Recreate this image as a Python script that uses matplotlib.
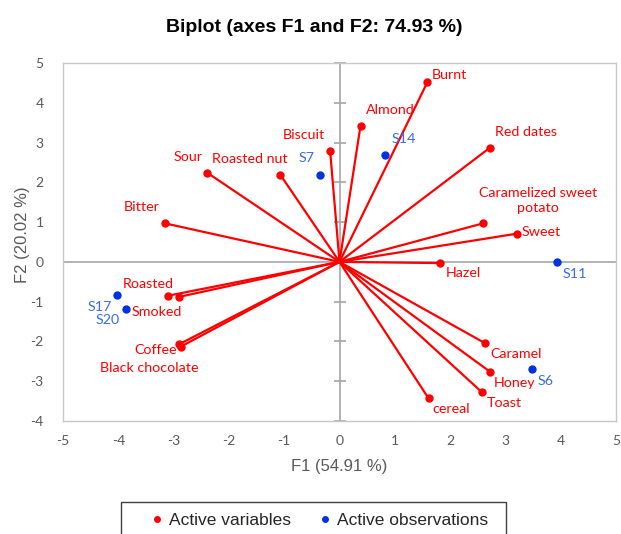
import matplotlib
matplotlib.use("Agg")
import matplotlib.pyplot as plt
import numpy as np
from matplotlib.lines import Line2D
from matplotlib.patches import Rectangle

plt.rcParams["axes.unicode_minus"] = False

# ---- data ----
var_names = ["Burnt", "Almond", "Red dates", "Caramelized sweet\npotato", "Sweet", "Hazel",
             "Biscuit", "Roasted nut", "Sour", "Bitter", "Roasted", "Smoked",
             "Coffee", "Black chocolate", "Caramel", "Honey", "Toast", "cereal"]
var_f1 = [1.59, 0.38, 2.72, 2.60, 3.21, 1.82,
          -0.17, -1.07, -2.39, -3.16, -3.10, -2.90,
          -2.90, -2.87, 2.64, 2.72, 2.57, 1.61]
var_f2 = [4.52, 3.42, 2.87, 0.97, 0.71, -0.03,
          2.80, 2.19, 2.24, 0.97, -0.85, -0.88,
          -2.07, -2.13, -2.05, -2.76, -3.27, -3.43]

obs_names = ["S14", "S11", "S7", "S17", "S20", "S6"]
obs_f1 = [0.82, 3.94, -0.36, -4.02, -3.86, 3.48]
obs_f2 = [2.69, -0.01, 2.19, -0.84, -1.19, -2.69]

x_ticks = [-5, -4, -3, -2, -1, 0, 1, 2, 3, 4, 5]
y_ticks = [-4, -3, -2, -1, 0, 1, 2, 3, 4, 5]

# ---- label placement (pixel offsets, ha) ----
var_label_pos = {
    "Burnt": (4, 7, "left"), "Almond": (5, 16, "left"), "Red dates": (5, 16, "left"),
    "Caramelized sweet\npotato": (55, 23, "center"), "Sweet": (5, 2, "left"),
    "Hazel": (6, -10, "left"), "Biscuit": (-5, 16, "right"), "Roasted nut": (-31, 16, "center"),
    "Sour": (-5, 16, "right"), "Bitter": (-5, 16, "right"), "Roasted": (-20, 12, "center"),
    "Smoked": (-22, -15, "center"), "Coffee": (-2, -6, "right"),
    "Black chocolate": (-32, -21, "center"), "Caramel": (5, -11, "left"),
    "Honey": (4, -11, "left"), "Toast": (5, -11, "left"), "cereal": (4, -11, "left"),
}
obs_label_pos = {
    "S14": (7, 16, "left"), "S11": (5, -12, "left"), "S7": (-5, 17, "right"),
    "S17": (-5, -12, "right"), "S20": (-6, -11, "right"), "S6": (6, -12, "left"),
}

RED = "#FF0000"
BLUE = "#0033DD"
BLUE_TXT = "#3A6BE8"
GRAY = "#595959"
label_font = ["Lato", "DejaVu Sans"]

fig = plt.figure(figsize=(6.21, 5.34), dpi=100)
ax = fig.add_axes([63/621, 1 - 421/534, (616-63)/621, (421-63)/534])

ax.set_xlim(-5, 5)
ax.set_ylim(-4, 5)
ax.set_xticks(x_ticks)
ax.set_yticks(y_ticks)
ax.tick_params(length=0, labelsize=10, labelcolor=GRAY)
ax.tick_params(axis="x", pad=10)
ax.tick_params(axis="y", pad=14)
for lbl in ax.get_xticklabels() + ax.get_yticklabels():
    lbl.set_fontfamily("Lato")
for s in ax.spines.values():
    s.set_color("#C8C8C8")
    s.set_linewidth(1.0)

# zero axes
ax.axhline(0, color="#A6A6A6", lw=1.2, zorder=1)
ax.axvline(0, color="#A6A6A6", lw=1.2, zorder=1)
ax.plot(np.zeros(len(y_ticks)), y_ticks, ls="none", marker="_", ms=9,
        mew=1.2, color="#A6A6A6", zorder=1, clip_on=False)

# variable vectors
for name, x, y in zip(var_names, var_f1, var_f2):
    ax.plot([0, x], [0, y], color=RED, lw=1.6, zorder=3, solid_capstyle="round")
    ax.plot([x], [y], "o", color=RED, ms=5, zorder=4)
    dx, dy, ha = var_label_pos[name]
    ax.annotate(name, (x, y), xytext=(dx, dy), textcoords="offset pixels",
                ha=ha, va="center", color=RED, fontsize=10.3, family=label_font,
                multialignment="center", linespacing=1.35, zorder=5)

# observations
ax.plot(obs_f1, obs_f2, "o", color=BLUE, ms=5, ls="none", zorder=4)
for name, x, y in zip(obs_names, obs_f1, obs_f2):
    dx, dy, ha = obs_label_pos[name]
    ax.annotate(name, (x, y), xytext=(dx, dy), textcoords="offset pixels",
                ha=ha, va="center", color=BLUE_TXT, fontsize=10.3, family=label_font,
                zorder=5)

ax.set_xlabel("F1 (54.91 %)", fontsize=12, color=GRAY, family="Liberation Sans")
ax.xaxis.set_label_coords(0.5, -(466 - 421) / (421 - 63), transform=ax.transAxes)
ax.xaxis.label.set_va("center")
ax.set_ylabel("F2 (20.02 %)", fontsize=12, color=GRAY, family="Liberation Sans")
ax.yaxis.set_label_coords(-(63 - 22) / (616 - 63), (421 - 235) / (421 - 63), transform=ax.transAxes)
ax.yaxis.label.set_va("center")

fig.text(314/621, 1 - 27/534, "Biplot (axes F1 and F2: 74.93 %)", ha="center", va="center",
         fontsize=14, fontweight="bold", family="Liberation Sans", color="#000000")

# legend (frame drawn to run off the bottom edge like the reference)
fig.patches.append(Rectangle((121/621, -0.05), (506-121)/621, 0.05 + (534-502)/534,
                             transform=fig.transFigure, fill=False,
                             edgecolor="#404040", linewidth=1.0))
handles = [Line2D([], [], ls="none", marker="o", ms=4, color=RED, label="Active variables"),
           Line2D([], [], ls="none", marker="o", ms=4, color=BLUE, label="Active observations")]
leg = fig.legend(handles=handles, loc="center", bbox_to_anchor=(319/621, 1 - 520/534),
                 ncol=2, frameon=False, handlelength=0.8,
                 handletextpad=0.3, columnspacing=1.55, borderpad=0.0,
                 prop={"family": "Liberation Sans", "size": 12.5})
for t in leg.get_texts():
    t.set_color("#262626")

fig.savefig("out.png", dpi=100)
